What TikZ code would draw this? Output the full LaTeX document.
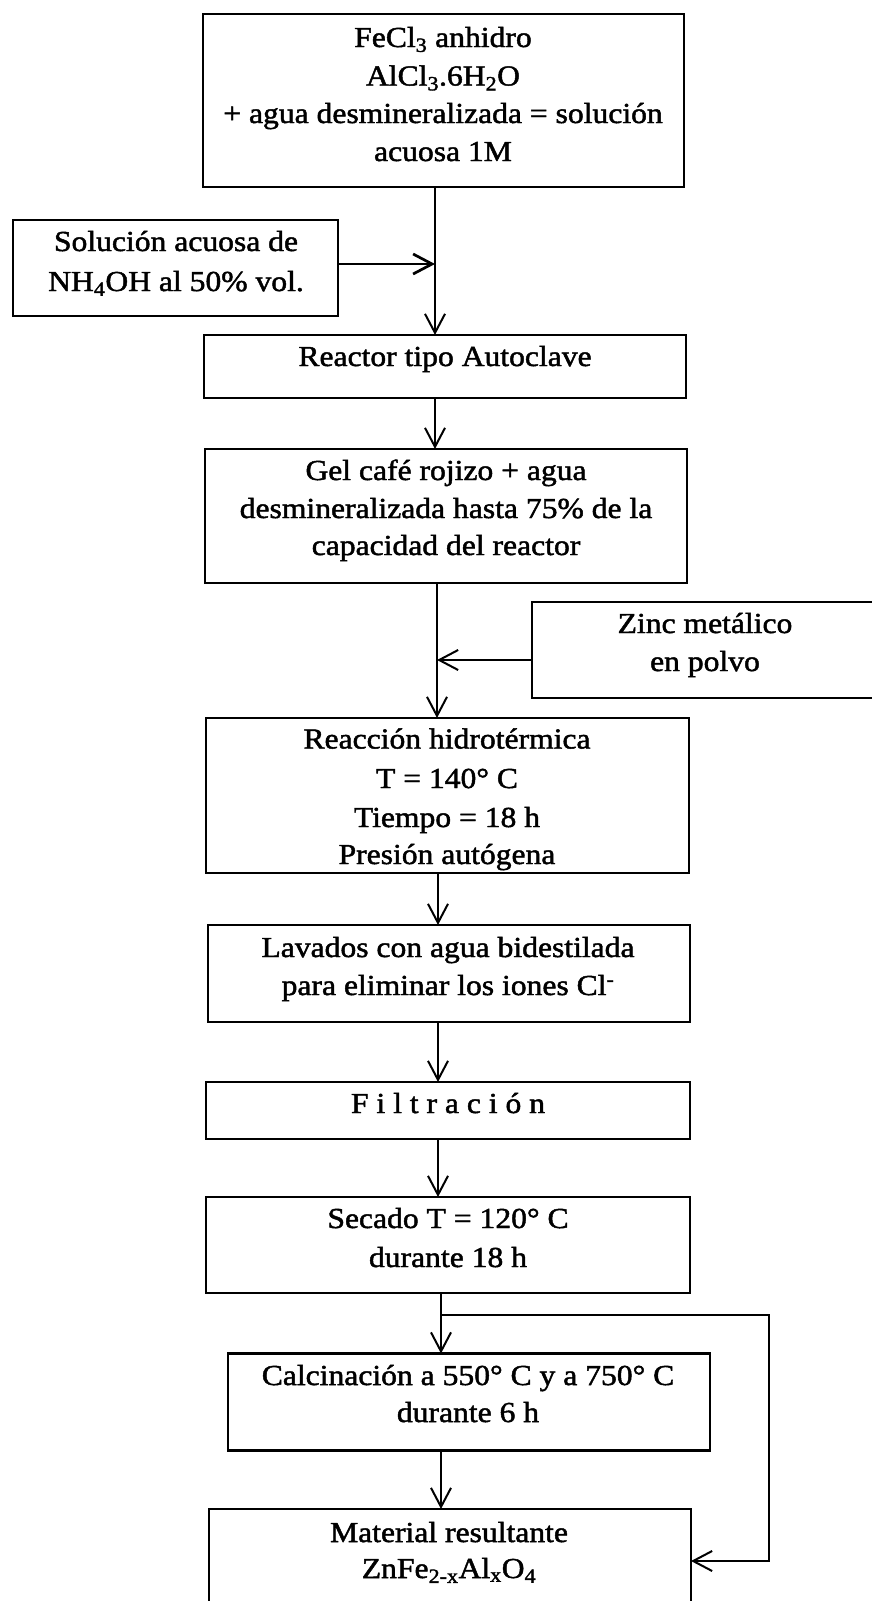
\documentclass[tikz,border=0pt]{standalone}
\usepackage{fontspec}
\setmainfont{Liberation Serif}[FakeStretch=1.09,FakeBold=1.6]
\usetikzlibrary{arrows.meta}
\begin{document}
\begin{tikzpicture}[x=1pt,y=-1pt,
  boxst/.style={draw, rectangle, line width=2.9pt, inner sep=0pt, outer sep=0pt},
  txt/.style={anchor=base, inner sep=0pt, font=\fontsize{29}{38}\selectfont},
  conn/.style={line width=2pt},
  arr/.style={conn, -{Straight Barb[length=19pt,width=20pt]}}]
\fill[white] (0,0) rectangle (872,1601);
\useasboundingbox (0,0) rectangle (872,1601);

% boxes
\node[boxst, minimum width=481pt, minimum height=173pt] (top) at (443.5,100.5) {};
\node[boxst, minimum width=325pt, minimum height=96pt] (nh4) at (175.5,268) {};
\node[boxst, minimum width=482pt, minimum height=63pt] (reac) at (445,366.5) {};
\node[boxst, minimum width=482pt, minimum height=134pt] (gel) at (446,516) {};
\node[boxst, minimum width=346pt, minimum height=96pt] (zinc) at (705,650) {};
\node[boxst, minimum width=483pt, minimum height=155pt] (reacc) at (447.5,795.5) {};
\node[boxst, minimum width=482pt, minimum height=97pt] (lav) at (449,973.5) {};
\node[boxst, minimum width=484pt, minimum height=57pt] (fil) at (448,1110.5) {};
\node[boxst, minimum width=484pt, minimum height=96pt] (sec) at (448,1245) {};
\node[boxst, minimum width=482pt, minimum height=97pt] (calc) at (469,1402) {};
\node[boxst, minimum width=482pt, minimum height=100pt] (mat) at (450,1559) {};

% texts
\node[txt] (t1a) at (443,47) {FeCl\textsubscript{3} anhidro};
\node[txt] (t1b) at (443,85.5) {AlCl\textsubscript{3}.6H\textsubscript{2}O};
\node[txt] (t1c) at (443,123) {+ agua desmineralizada = solución};
\node[txt] (t1d) at (443,161) {acuosa 1M};

\node[txt] (t2a) at (176,251) {Solución acuosa de};
\node[txt] (t2b) at (176,291) {NH\textsubscript{4}OH al 50\% vol.};

\node[txt] (t3a) at (445,366) {Reactor tipo Autoclave};

\node[txt] (t4a) at (446,480) {Gel café rojizo + agua};
\node[txt] (t4b) at (446,518) {desmineralizada hasta 75\% de la};
\node[txt] (t4c) at (446,555) {capacidad del reactor};

\node[txt] (t5a) at (705,633) {Zinc metálico};
\node[txt] (t5b) at (705,671) {en polvo};

\node[txt] (t6a) at (447,748.5) {Reacción hidrotérmica};
\node[txt] (t6b) at (447,788) {T = 140° C};
\node[txt] (t6c) at (447,827) {Tiempo = 18 h};
\node[txt] (t6d) at (447,864) {Presión autógena};

\node[txt] (t7a) at (448,957) {Lavados con agua bidestilada};
\node[txt] (t7b) at (448,995) {para eliminar los iones Cl\textsuperscript{-}};

\node[txt] (t8a) at (448,1113) {F i l t r a c i ó n};

\node[txt] (t9a) at (448,1228) {Secado T = 120° C};
\node[txt] (t9b) at (448,1267) {durante 18 h};

\node[txt] (t10a) at (468,1385) {Calcinación a 550° C y a 750° C};
\node[txt] (t10b) at (468,1422) {durante 6 h};

\node[txt] (t11a) at (449,1542) {Material resultante};
\node[txt] (t11b) at (449,1578) {ZnFe\textsubscript{2-x}Al\textsubscript{x}O\textsubscript{4}};

% connectors
\coordinate (xa) at (435,0);
\coordinate (xb) at (437,0);
\coordinate (xc) at (438,0);
\coordinate (xd) at (441,0);
\coordinate (jz) at (437,660);
\coordinate (lp) at (441,1315);
\coordinate (lr) at (769,1315);
\coordinate (la) at (769,1561);

\draw[arr] (top.south -| xa) -- (reac.north -| xa);
\draw[arr, line width=2.7pt] (nh4.east |- 0,264) -- (xa |- 0,264);
\draw[arr] (reac.south -| xa) -- (gel.north -| xa);
\draw[arr] (gel.south -| xb) -- (reacc.north -| xb);
\draw[arr] (zinc.west |- jz) -- (jz);
\draw[arr] (reacc.south -| xc) -- (lav.north -| xc);
\draw[arr] (lav.south -| xc) -- (fil.north -| xc);
\draw[arr] (fil.south -| xc) -- (sec.north -| xc);
\draw[arr] (sec.south -| xd) -- (calc.north -| xd);
\draw[arr] (calc.south -| xd) -- (mat.north -| xd);
\draw[arr] (lp) -- (lr) -- (la) -- (mat.east |- la);
\end{tikzpicture}
\end{document}
